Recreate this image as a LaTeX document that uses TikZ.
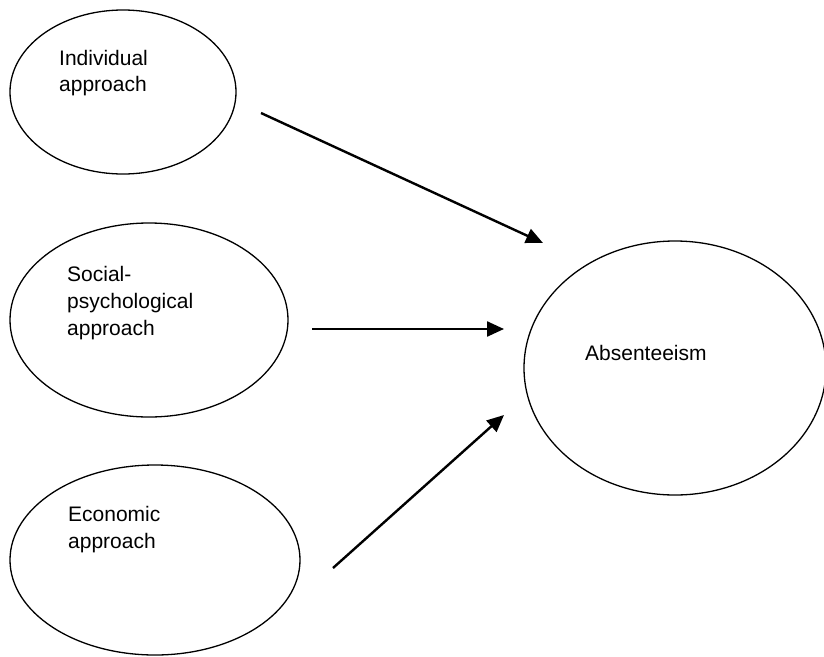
\documentclass[tikz,border=0pt]{standalone}
\usepackage{fontspec}
\setmainfont{Liberation Sans}
\usetikzlibrary{shapes.geometric,arrows.meta}
\tikzset{
  oval/.style={draw=black, line width=1.3pt, ellipse, inner sep=0pt},
  lbl/.style={anchor=base west, inner sep=0pt, font=\fontsize{21}{27}\selectfont},
  conn/.style={draw=black, line width=2.4pt, -{Triangle[length=17pt,width=15pt]}}
}
\begin{document}
\begin{tikzpicture}[x=1pt,y=-1pt]
\useasboundingbox (0,0) rectangle (824,656);
% ellipses
\node[oval, minimum width=226pt, minimum height=164pt] (ind) at (123,92) {};
\node[oval, minimum width=278pt, minimum height=194pt] (soc) at (149,320) {};
\node[oval, minimum width=290pt, minimum height=190pt] (eco) at (155,560) {};
\node[oval, minimum width=302pt, minimum height=254pt] (abs) at (675,368) {};
% texts
\node[lbl] (t1a) at (59,65) {Individual};
\node[lbl] (t1b) at (59,91) {approach};
\node[lbl] (t2a) at (67,281) {Social-};
\node[lbl] (t2b) at (67,308) {psychological};
\node[lbl] (t2c) at (67,335) {approach};
\node[lbl] (t3a) at (68,521) {Economic};
\node[lbl] (t3b) at (68,548) {approach};
\node[lbl] (t4) at (585,360) {Absenteeism};
% connector ends
\coordinate (s1) at (261,113);
\coordinate (e1) at (543,243);
\coordinate (s2) at (312,329);
\coordinate (e2) at (504,329);
\coordinate (s3) at (333,568);
\coordinate (e3) at (504,415);
\draw[conn] (s1) -- (e1);
\draw[conn] (s2) -- (e2);
\draw[conn] (s3) -- (e3);
\end{tikzpicture}
\end{document}
